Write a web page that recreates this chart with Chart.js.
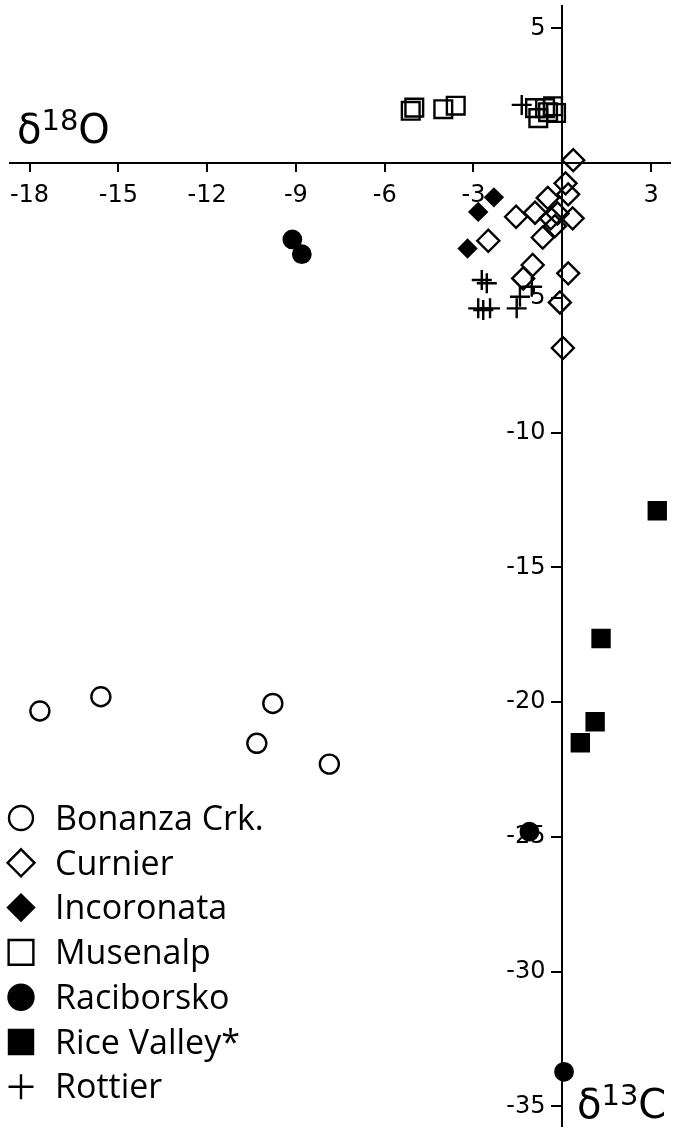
<!DOCTYPE html>
<html>
<head>
<meta charset="utf-8">
<script src="https://cdn.jsdelivr.net/npm/chart.js@4.4.1/dist/chart.umd.min.js"></script>
<style>
    html, body { margin: 0; padding: 0; background: #fff; }
    #wrap { width: 677px; height: 1134px; }
</style>
</head>
<body>
<div id="wrap"><canvas id="isoChart" width="677" height="1134"></canvas></div>
<script>
/* =======================================================
   DATA  (x = d18O, y = d13C)
   ======================================================= */
const xTicks = [-18, -15, -12, -9, -6, -3, 3];
const yTicks = [5, -5, -10, -15, -20, -25, -30, -35];

const bonanzaX = [-17.65, -15.59, -9.78, -10.32, -7.87];
const bonanzaY = [-20.33, -19.80, -20.05, -21.53, -22.30];

const curnierX = [0.37, 0.11, 0.20, -0.49, -1.56, -0.92, -0.39, -0.16, 0.35, -0.25, -0.66, -2.50, -1.00, -1.32, 0.20, -0.08, 0.02];
const curnierY = [0.11, -0.75, -1.16, -1.29, -1.99, -1.84, -2.05, -1.87, -2.05, -2.34, -2.76, -2.88, -3.78, -4.28, -4.09, -5.17, -6.86];

const incoronataX = [-2.31, -2.84, -3.20];
const incoronataY = [-1.27, -1.81, -3.17];

const musenalpX = [-5.12, -5.00, -4.02, -3.60, -0.92, -0.81, -0.58, -0.31, -0.21, -0.48];
const musenalpY = [1.94, 2.06, 2.00, 2.13, 2.04, 1.67, 2.04, 2.11, 1.86, 1.89];

const raciborskoX = [-9.12, -8.80, -1.11, 0.06];
const raciborskoY = [-2.83, -3.38, -24.81, -33.72];

const riceValleyX = [3.21, 1.31, 1.11, 0.61];
const riceValleyY = [-12.90, -17.64, -20.73, -21.51];

const rottierX = [-1.37, -2.72, -2.55, -2.84, -2.67, -2.44, -1.54, -1.43, -1.03];
const rottierY = [2.16, -4.34, -4.46, -5.39, -5.45, -5.39, -5.39, -4.96, -4.59];

function pts(xs, ys) {
    return xs.map((x, i) => ({ x: x, y: ys[i] }));
}

function series(label, xs, ys, style, radius, filled, legendRadius) {
    return {
        label: label,
        data: pts(xs, ys),
        pointStyle: style,
        pointRadius: radius,
        pointBorderWidth: 2.4,
        pointBorderColor: "#000",
        pointBackgroundColor: filled ? "#000" : "rgba(0,0,0,0)",
        showLine: false,
        clip: false,
        legendRadius: legendRadius,
        filled: filled
    };
}

const datasets = [
    series("Bonanza Crk.", bonanzaX, bonanzaY, "circle", 9.5, false, 12),
    series("Curnier", curnierX, curnierY, "rectRot", 11, false, 13.5),
    series("Incoronata", incoronataX, incoronataY, "rectRot", 8.5, true, 13),
    series("Musenalp", musenalpX, musenalpY, "rect", 12.5, false, 17.5),
    series("Raciborsko", raciborskoX, raciborskoY, "circle", 8.7, true, 12.5),
    series("Rice Valley*", riceValleyX, riceValleyY, "rect", 12, true, 17),
    series("Rottier", rottierX, rottierY, "cross", 10, false, 12.5)
];

/* =======================================================
   LEGEND + AXIS TITLES (drawn on canvas)
   ======================================================= */
function drawDelta(ctx, x, y, sup, tail) {
    ctx.save();
    ctx.fillStyle = "#000";
    ctx.textBaseline = "alphabetic";
    ctx.textAlign = "left";
    ctx.font = "40px 'DejaVu Sans'";
    ctx.fillText("\u03B4", x, y);
    let cx = x + ctx.measureText("\u03B4").width;
    ctx.font = "29px 'DejaVu Sans'";
    ctx.fillText(sup, cx, y - 13);
    cx += ctx.measureText(sup).width;
    ctx.font = "40px 'DejaVu Sans'";
    ctx.fillText(tail, cx, y);
    ctx.restore();
}

const overlay = {
    id: "overlay",
    afterDraw(chart) {
        const ctx = chart.ctx;
        drawDelta(ctx, 17, 143, "18", "O");
        drawDelta(ctx, 577, 1118, "13", "C");

        ctx.save();
        chart.data.datasets.forEach((ds, i) => {
            const cy = 818 + i * 44.8;
            ctx.fillStyle = ds.filled ? "#000" : "rgba(0,0,0,0)";
            ctx.strokeStyle = "#000";
            ctx.lineWidth = 2.4;
            Chart.helpers.drawPoint(ctx, {
                pointStyle: ds.pointStyle,
                radius: ds.legendRadius,
                borderWidth: 2.4,
                rotation: 0
            }, 21, cy);
            ctx.fillStyle = "#000";
            ctx.font = "34px 'Open Sans'";
            ctx.textAlign = "left";
            ctx.textBaseline = "alphabetic";
            ctx.fillText(ds.label, 55, 830 + i * 44.7);
        });
        ctx.restore();
    }
};

// axes cross at 0, so they should not take any room from the plot
function noRoom(s) {
    if (s.isHorizontal()) s.height = 0; else s.width = 0;
    s.paddingLeft = 0;
    s.paddingRight = 0;
    s.paddingTop = 0;
    s.paddingBottom = 0;
}

/* =======================================================
   CHART
   ======================================================= */
const tickFont = { family: "DejaVu Sans", size: 24 };

new Chart(document.getElementById("isoChart"), {
    type: "scatter",
    data: { datasets: datasets },
    options: {
        responsive: false,
        animation: false,
        events: [],
        layout: { autoPadding: false, padding: { left: 10, right: 7, top: 6, bottom: 8 } },
        plugins: {
            legend: { display: false },
            tooltip: { enabled: false }
        },
        scales: {
            x: {
                type: "linear",
                min: -18.66,
                max: 3.64,
                position: { y: 0 },
                afterFit: noRoom,
                afterBuildTicks: (s) => { s.ticks = xTicks.map(v => ({ value: v })); },
                grid: { drawOnChartArea: false, drawTicks: true, tickLength: 8, color: "#000", lineWidth: 2 },
                border: { display: true, color: "#000", width: 2 },
                ticks: {
                    color: "#000",
                    font: tickFont,
                    padding: 10,
                    maxRotation: 0,
                    autoSkip: false,
                    callback: (v) => String(v)
                }
            },
            y: {
                type: "linear",
                min: -35.73,
                max: 5.83,
                position: { x: 0 },
                afterFit: noRoom,
                afterBuildTicks: (s) => { s.ticks = yTicks.map(v => ({ value: v })); },
                grid: { drawOnChartArea: false, drawTicks: true, tickLength: 10, color: "#000", lineWidth: 2 },
                border: { display: true, color: "#000", width: 2 },
                ticks: {
                    color: "#000",
                    font: tickFont,
                    autoSkip: false,
                    // labels sit right on the axis here, keep them clear of the tick marks
                    callback: (v) => String(v) + "\u2002\u2009"
                }
            }
        }
    },
    plugins: [overlay]
});
</script>
</body>
</html>
